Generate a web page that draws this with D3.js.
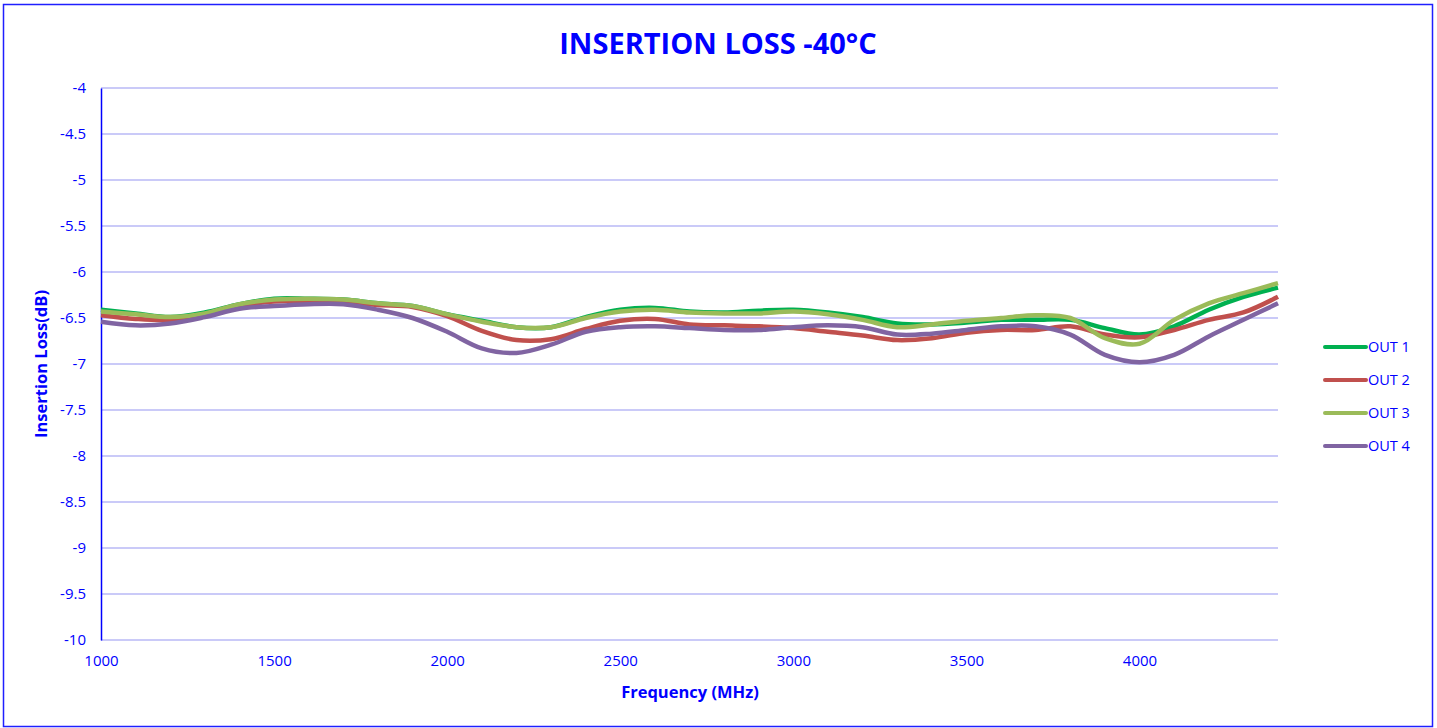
<!DOCTYPE html>
<html>
<head>
<meta charset="utf-8">
<script src="https://cdn.jsdelivr.net/npm/d3@7"></script>
<style>
  body { margin: 0; background: #fff; }
  svg text { font-family: 'Open Sans', 'Noto Sans', sans-serif; fill: #0000ff; }
</style>
</head>
<body>
<div id="chart"></div>
<script>
const freqs = [1000, 1100, 1200, 1300, 1400, 1500, 1600, 1700, 1800, 1900,
  2000, 2100, 2200, 2300, 2400, 2500, 2600, 2700, 2800, 2900,
  3000, 3100, 3200, 3300, 3400, 3500, 3600, 3700, 3800, 3900,
  4000, 4100, 4200, 4300, 4400]

const out1 = [-6.41, -6.45, -6.49, -6.44, -6.35, -6.29, -6.29, -6.30, -6.34, -6.37,
  -6.46, -6.53, -6.60, -6.60, -6.49, -6.41, -6.39, -6.43, -6.44, -6.42,
  -6.41, -6.44, -6.49, -6.56, -6.57, -6.55, -6.52, -6.52, -6.52, -6.61,
  -6.68, -6.59, -6.41, -6.27, -6.17]

const out2 = [-6.47, -6.51, -6.52, -6.46, -6.37, -6.32, -6.32, -6.33, -6.36, -6.38,
  -6.48, -6.64, -6.74, -6.73, -6.62, -6.53, -6.51, -6.57, -6.58, -6.59,
  -6.61, -6.65, -6.69, -6.74, -6.72, -6.66, -6.63, -6.63, -6.59, -6.68,
  -6.71, -6.63, -6.52, -6.44, -6.27]

const out3 = [-6.43, -6.46, -6.49, -6.45, -6.35, -6.30, -6.29, -6.30, -6.34, -6.37,
  -6.46, -6.54, -6.60, -6.60, -6.50, -6.43, -6.41, -6.44, -6.45, -6.45,
  -6.43, -6.46, -6.52, -6.60, -6.57, -6.53, -6.50, -6.47, -6.50, -6.72,
  -6.78, -6.52, -6.34, -6.23, -6.12]

const out4 = [-6.54, -6.58, -6.56, -6.49, -6.40, -6.37, -6.35, -6.35, -6.41, -6.50,
  -6.65, -6.83, -6.88, -6.79, -6.65, -6.60, -6.59, -6.61, -6.63, -6.63,
  -6.60, -6.58, -6.60, -6.68, -6.67, -6.63, -6.59, -6.59, -6.68, -6.90,
  -6.98, -6.90, -6.70, -6.52, -6.34]

const seriesNames = ['OUT 1', 'OUT 2', 'OUT 3', 'OUT 4']
const seriesColors = ['#00b050', '#c0504d', '#9bbb59', '#8064a2']
const xTicks = [1000, 1500, 2000, 2500, 3000, 3500, 4000]
const yTicks = [-4, -4.5, -5, -5.5, -6, -6.5, -7, -7.5, -8, -8.5, -9, -9.5, -10]

const W = 1437, H = 728
const plot = {left: 101, right: 1278, top: 88, bottom: 640}

const svg = d3.select('#chart')
  .append('svg')
  .attr('width', W)
  .attr('height', H)

// chart border
svg.append('rect')
  .attr('x', 3.5)
  .attr('y', 4.5)
  .attr('width', 1429)
  .attr('height', 722)
  .style('fill', 'none')
  .style('stroke', '#1f1fff')
  .style('stroke-width', 1.5)

const x = d3.scaleLinear().domain([1000, 4400]).range([plot.left, plot.right])
const y = d3.scaleLinear().domain([-10, -4]).range([plot.bottom, plot.top])

// horizontal grid
svg.append('g')
  .selectAll('line')
  .data(yTicks)
  .join('line')
  .attr('x1', plot.left)
  .attr('x2', plot.right)
  .attr('y1', d => y(d))
  .attr('y2', d => y(d))
  .style('stroke', '#b8b8f6')
  .style('stroke-width', 1.3)

// y axis
const yAxis = svg.append('g')
  .attr('transform', `translate(${plot.left}, 0)`)
  .call(d3.axisLeft(y).tickValues(yTicks).tickSize(0).tickPadding(15).tickFormat(d => d))
yAxis.select('.domain').style('stroke', '#0000ff').style('stroke-width', 1.5)
yAxis.selectAll('text').style('font-size', '15px')

// x axis (labels only)
const xAxis = svg.append('g')
  .attr('transform', `translate(0, ${plot.bottom})`)
  .call(d3.axisBottom(x).tickValues(xTicks).tickSize(0).tickPadding(15).tickFormat(d => d))
xAxis.select('.domain').remove()
xAxis.selectAll('text').style('font-size', '15px')

const data = [out1, out2, out3, out4]
const line = d3.line()
  .x((d, i) => x(freqs[i]))
  .y(d => y(d))
  .curve(d3.curveCatmullRom)

svg.append('g')
  .selectAll('path')
  .data(data)
  .join('path')
  .attr('d', line)
  .style('fill', 'none')
  .style('stroke', (d, i) => seriesColors[i])
  .style('stroke-width', 4.5)
  .style('stroke-linejoin', 'round')

// legend
const legend = svg.append('g')
seriesNames.forEach((name, i) => {
  const ly = 347 + i * 33
  legend.append('line')
    .attr('x1', 1325)
    .attr('x2', 1366)
    .attr('y1', ly)
    .attr('y2', ly)
    .style('stroke', seriesColors[i])
    .style('stroke-width', 4)
    .style('stroke-linecap', 'round')
  legend.append('text')
    .attr('x', 1368)
    .attr('y', ly + 5)
    .text(name)
    .style('font-size', '14.5px')
})

svg.append('text')
  .attr('x', 718)
  .attr('y', 54)
  .text('INSERTION LOSS -40°C')
  .style('text-anchor', 'middle')
  .style('font-size', '29px')
  .style('font-weight', 'bold')

svg.append('text')
  .attr('transform', 'translate(47, 364) rotate(-90)')
  .text('Insertion Loss(dB)')
  .style('text-anchor', 'middle')
  .style('font-size', '16.5px')
  .style('font-weight', 'bold')

svg.append('text')
  .attr('x', 690)
  .attr('y', 698)
  .text('Frequency (MHz)')
  .style('text-anchor', 'middle')
  .style('font-size', '16.5px')
  .style('font-weight', 'bold')
</script>
</body>
</html>
